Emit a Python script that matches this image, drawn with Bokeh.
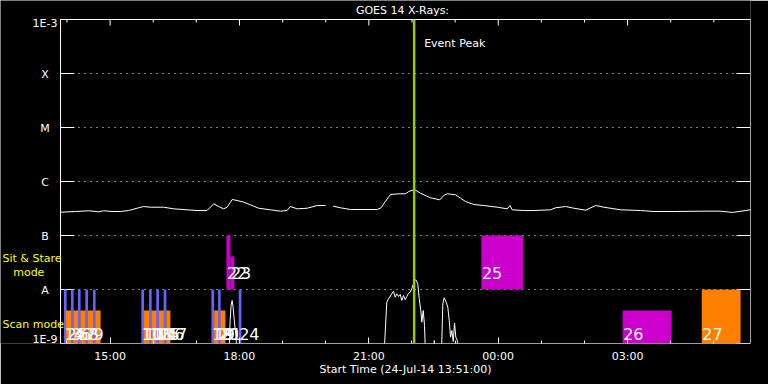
import math
from bokeh.plotting import figure
from bokeh.models import (ColumnDataSource, FixedTicker, LinearAxis, Label, LabelSet, Range1d)
from bokeh.core.properties import value
from bokeh.embed import file_html
from bokeh.resources import INLINE

# ---------------- data ----------------
title_text = "GOES 14 X-Rays:"
start_label = "Start Time (24-Jul-14 13:51:00)"
t_start, t_end = 13.85, 29.85          # hours after 00:00 24-Jul-14
peak_time = 22.05                      # event peak (hours)
y_min, y_max = 1e-9, 1e-3

ytick_values = [1e-9, 1e-8, 1e-7, 1e-6, 1e-5, 1e-4, 1e-3]
ytick_labels = ["1E-9", "A", "B", "C", "M", "X", "1E-3"]
xtick_major = [15, 18, 21, 24, 27]
xtick_labels = ["15:00", "18:00", "21:00", "00:00", "03:00"]
xtick_minor = [14, 16, 17, 19, 20, 22, 23, 25, 26, 28, 29]

mode_captions = ["Sit & Stare", "mode", "Scan mode"]

# GOES long channel (1-8 A), W/m^2
long_t = [13.85, 14.193, 14.502, 14.734, 14.850, 15.045, 15.237, 15.430, 15.625, 15.778,
          15.934, 16.242, 16.474, 16.785, 17.017, 17.249, 17.402, 17.518, 17.634, 17.713,
          17.829, 17.945, 18.098, 18.254, 18.446, 18.718, 18.950, 19.105, 19.182, 19.337,
          19.569, 19.801, 19.994, 20.08, 20.172, 20.342, 20.574, 21.193, 21.286, 21.386,
          21.502, 21.694, 21.850, 21.927, 22.059, 22.198, 22.430, 22.646, 22.739, 22.817,
          23.010, 23.242, 23.435, 23.667, 23.978, 24.210, 24.270, 24.326, 24.595, 24.827,
          25.214, 25.330, 25.562, 25.755, 26.026, 26.258, 26.451, 26.838, 27.302, 27.611,
          28.075, 28.694, 29.158, 29.430, 29.854]
long_flux = [2.70e-7, 2.78e-7, 2.87e-7, 2.75e-7, 2.87e-7, 2.78e-7, 2.78e-7, 2.90e-7, 3.20e-7, 3.44e-7,
             3.34e-7, 3.34e-7, 3.12e-7, 2.99e-7, 2.90e-7, 2.90e-7, 3.86e-7, 3.44e-7, 3.12e-7, 3.34e-7,
             4.64e-7, 4.45e-7, 4.14e-7, 3.70e-7, 3.20e-7, 2.99e-7, 2.82e-7, 2.90e-7, 3.44e-7, 3.12e-7,
             3.20e-7, 3.59e-7, 3.59e-7, float("nan"), 3.49e-7, 3.26e-7, 3.03e-7, 3.03e-7, 3.26e-7, 4.32e-7,
             5.74e-7, 5.92e-7, 5.92e-7, 6.53e-7, 7.11e-7, 6.07e-7, 4.99e-7, 4.58e-7, 5.51e-7, 5.92e-7,
             5.67e-7, 4.26e-7, 3.75e-7, 3.59e-7, 3.34e-7, 3.12e-7, 3.59e-7, 2.99e-7, 2.90e-7, 2.90e-7,
             2.99e-7, 3.26e-7, 3.44e-7, 3.20e-7, 2.94e-7, 3.59e-7, 3.34e-7, 2.99e-7, 2.90e-7, 2.78e-7,
             2.78e-7, 2.82e-7, 2.82e-7, 2.67e-7, 2.99e-7]

# GOES short channel (0.5-4 A), W/m^2 (mostly below 1E-9)
short_t = [13.85, 17.750, 17.783, 17.806, 17.829, 17.852, 17.876, 17.899, 17.922, 17.945,
           21.340, 21.416, 21.456, 21.532, 21.572, 21.611, 21.648, 21.688, 21.727, 21.764,
           21.803, 21.843, 21.880, 21.920, 21.959, 21.996, 22.059, 22.089, 22.135, 22.168,
           22.205, 22.228, 22.261, 22.291, 22.321, 22.505, 22.518, 22.531, 22.678, 22.715,
           22.748, 22.794, 22.831, 22.864, 22.894, 22.924, 22.957, 22.987, 23.017, 23.050,
           23.080, 29.85]
short_flux = [4e-10, 4e-10, 2.67e-9, 5.05e-9, 6.26e-9, 4.70e-9, 2.90e-9, 1.90e-9, 1.35e-9, 4e-10,
              4e-10, 5.82e-9, 6.73e-9, 8.32e-9, 9.30e-9, 7.20e-9, 8.32e-9, 7.42e-9, 8.08e-9, 6.26e-9,
              7.74e-9, 6.45e-9, 7.42e-9, 8.54e-9, 8.91e-9, 1.03e-8, 1.47e-8, 1.51e-8, 1.28e-8, 6.73e-9,
              4.08e-9, 2.48e-9, 4.08e-9, 2.15e-9, 4e-10, 4e-10, 1.14e-9, 4e-10, 4e-10, 5.43e-9,
              7.02e-9, 5.82e-9, 4.70e-9, 2.67e-9, 1.31e-9, 1.74e-9, 1.09e-9, 2.40e-9, 1.31e-9, 1.14e-9,
              4e-10, 4e-10]

# observations
obs_id = list(range(1, 28))
obs_start = [13.931, 13.978, 14.094, 14.154, 14.256, 14.316, 14.425, 14.488, 14.604,
             15.725, 15.787, 15.903, 15.964, 16.071, 16.134, 16.242, 16.305,
             17.349, 17.412, 17.504, 17.564, 17.697, 17.790, 17.982,
             23.610, 26.885, 28.720]
obs_end = [13.992, 14.154, 14.154, 14.316, 14.316, 14.488, 14.488, 14.780, 14.664,
           15.787, 15.964, 15.964, 16.134, 16.134, 16.305, 16.305, 16.398,
           17.412, 17.564, 17.564, 17.674, 17.790, 17.883, 18.045,
           24.580, 28.020, 29.620]
obs_top = [1e-8, 4.1e-9, 1e-8, 4.1e-9, 1e-8, 4.1e-9, 1e-8, 4.1e-9, 1e-8,
           1e-8, 4.1e-9, 1e-8, 4.1e-9, 1e-8, 4.1e-9, 1e-8, 4.1e-9,
           1e-8, 4.1e-9, 1e-8, 4.1e-9, 1e-7, 4.1e-8, 1e-8,
           1e-7, 4.1e-9, 1e-8]
obs_mode = ["scan"] * 21 + ["sit", "sit", "scan", "sit", "scan", "scan"]
obs_kind = ["b", "o", "b", "o", "b", "o", "b", "o", "b",
            "b", "o", "b", "o", "b", "o", "b", "o",
            "b", "o", "b", "o", "m", "m", "b",
            "m", "m", "o"]
mode_base = {"scan": 1e-9, "sit": 1e-8}

# ---------------- layout / styling ----------------
FONT = "DejaVu Sans"
kind_color = {"b": "#6464ff", "o": "#ff8000", "m": "#cc00cc"}
W, H = 768, 384
BOX_LEFT, BOX_RIGHT_PAD, BOX_TOP, BOX_BOTTOM_PAD = 60, 18, 19, 41

# the bokeh frame spans the margin on the left and top too, so that the
# captions and tick labels there are drawn inside it; the plot box is drawn explicitly.
px_per_hour = (W - BOX_LEFT - BOX_RIGHT_PAD) / (t_end - t_start)
px_per_decade = (H - BOX_TOP - BOX_BOTTOM_PAD) / (math.log10(y_max) - math.log10(y_min))
x_lo = t_start - BOX_LEFT / px_per_hour
y_hi = 10 ** (math.log10(y_max) + BOX_TOP / px_per_decade)

p = figure(width=W, height=H, x_range=Range1d(x_lo, t_end), y_range=Range1d(y_min, y_hi),
           y_axis_type="log", output_backend="svg", toolbar_location=None,
           min_border_left=0, min_border_right=BOX_RIGHT_PAD, min_border_top=0,
           min_border_bottom=BOX_BOTTOM_PAD,
           background_fill_color="black", border_fill_color="black",
           outline_line_color=None)
p.yaxis.visible = False
p.grid.visible = False

# bottom time axis (ticks point inwards)
ax = p.xaxis[0]
ax.ticker = FixedTicker(ticks=xtick_major, minor_ticks=xtick_minor)
ax.major_label_overrides = {t: s for t, s in zip(xtick_major, xtick_labels)}
ax.axis_line_color = None
ax.major_tick_line_color = "white"
ax.minor_tick_line_color = "white"
ax.major_tick_in, ax.major_tick_out = 6, 0
ax.minor_tick_in, ax.minor_tick_out = 3, 0
ax.major_label_text_color = "white"
ax.major_label_text_font = FONT
ax.major_label_text_font_size = "11px"
ax.major_label_standoff = 6

# "Start Time" caption, centred under the plot box
t_mid = (t_start + t_end) / 2
ax2 = LinearAxis(ticker=FixedTicker(ticks=[t_mid], minor_ticks=[]),
                 major_label_overrides={t_mid: start_label},
                 axis_line_color=None, major_tick_line_color=None, minor_tick_line_color=None,
                 major_label_text_color="white", major_label_text_font=FONT,
                 major_label_text_font_size="11px", major_label_standoff=-9)
p.add_layout(ax2, "below")

# plot box
p.quad(left=[t_start], right=[t_end], bottom=[y_min], top=[y_max], fill_color=None,
       line_color="white", line_width=1)

# dotted class lines
p.segment(x0=[t_start] * 5, x1=[t_end] * 5, y0=ytick_values[1:-1], y1=ytick_values[1:-1],
          line_color="white", line_width=1, line_dash="1 5")

# inward ticks on left, right and top edges
n_y = len(ytick_values)
p.ray(x=[t_start] * n_y, y=ytick_values, length=14, length_units="screen", angle=0,
      line_color="white", line_width=1)
p.ray(x=[t_end] * n_y, y=ytick_values, length=14, length_units="screen", angle=math.pi,
      line_color="white", line_width=1)
p.ray(x=xtick_major, y=[y_max] * len(xtick_major), length=6, length_units="screen",
      angle=-math.pi / 2, line_color="white", line_width=1)
p.ray(x=xtick_minor, y=[y_max] * len(xtick_minor), length=3, length_units="screen",
      angle=-math.pi / 2, line_color="white", line_width=1)

# y tick labels, centred left of the box
label_groups = ((ytick_values[:1], ytick_labels[:1], 4),
                (ytick_values[1:-1], ytick_labels[1:-1], -1),
                (ytick_values[-1:], ytick_labels[-1:], -4))
for ys, txts, dy in label_groups:
    p.add_layout(LabelSet(x="x", y="y", text="text",
                          source=ColumnDataSource(dict(x=[t_start] * len(ys), y=ys, text=txts)),
                          x_offset=-15.5, y_offset=dy, text_align="center",
                          text_baseline="middle", text_color="white",
                          text_font=value(FONT), text_font_size="11px"))

# yellow mode captions
p.add_layout(LabelSet(x="x", y="y", text="text", x_units="screen", y_units="screen",
                      source=ColumnDataSource(dict(text=mode_captions, x=[2, 12.7, 2],
                                                   y=[85, 71.5, 19])),
                      text_align="left", text_baseline="middle", text_color="#ffff00",
                      text_font=value(FONT), text_font_size="11px"))

# title
p.add_layout(Label(x=402, y=H - BOX_BOTTOM_PAD - 10, x_units="screen", y_units="screen",
                   text=title_text, text_color="white", text_font=FONT, text_font_size="11px",
                   text_align="center", text_baseline="middle"))

# observation bars
bars = ColumnDataSource(dict(
    left=obs_start, right=obs_end, top=obs_top,
    bottom=[mode_base[m] for m in obs_mode],
    color=[kind_color[k] for k in obs_kind]))
p.quad(left="left", right="right", bottom="bottom", top="top", fill_color="color",
       line_color=None, source=bars)

# GOES curves
p.line(long_t, long_flux, line_color="white", line_width=1)
p.line(short_t, short_flux, line_color="white", line_width=1)

# event peak
p.segment(x0=[peak_time], x1=[peak_time], y0=[y_min], y1=[y_max], line_color="#99cc00",
          line_width=2.5)
p.add_layout(Label(x=peak_time, y=300, y_units="screen", x_offset=10, text="Event Peak",
                   text_color="white", text_font=FONT, text_font_size="11px",
                   text_baseline="middle"))

# observation numbers
for mode, dy in (("scan", 4), ("sit", 11)):
    idx = [i for i, m in enumerate(obs_mode) if m == mode]
    src = ColumnDataSource(dict(x=[obs_start[i] for i in idx],
                                y=[mode_base[mode]] * len(idx),
                                text=[str(obs_id[i]) for i in idx]))
    p.add_layout(LabelSet(x="x", y="y", text="text", source=src, x_offset=0.5, y_offset=dy,
                          text_align="left", text_baseline="alphabetic",
                          text_color="white", text_font=value(FONT), text_font_size="16px"))

open("out.html", "w").write(file_html(p, INLINE, title="GOES 14 X-Rays"))
